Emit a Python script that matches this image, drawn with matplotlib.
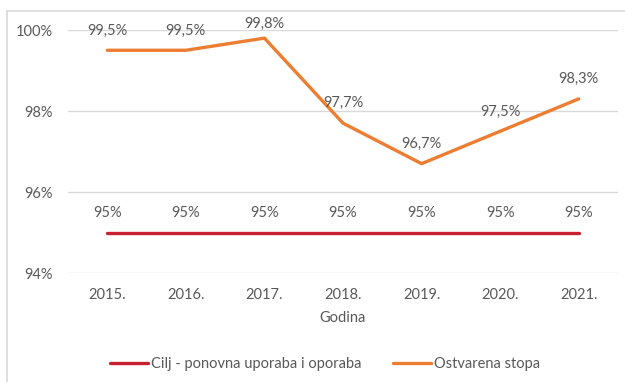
import matplotlib
matplotlib.use("Agg")
import matplotlib.pyplot as plt
from matplotlib.patches import Rectangle

years = ["2015.", "2016.", "2017.", "2018.", "2019.", "2020.", "2021."]
target = [95, 95, 95, 95, 95, 95, 95]
achieved = [99.5, 99.5, 99.8, 97.7, 96.7, 97.5, 98.3]
yticks = [94, 96, 98, 100]

TEXT = "#595959"
GRID = "#d9d9d9"
RED = "#C8202F"
ORANGE = "#ED7D31"
FS = 10.5
LABEL_LIFT = 0.49   # data units above each point
LABEL_CEIL = 100.15  # keep labels inside the chart frame

plt.rcParams["font.family"] = ["Lato", "DejaVu Sans"]
plt.rcParams["font.size"] = FS

fig = plt.figure(figsize=(6.25, 3.82), dpi=100)
ax = fig.add_axes([0.1088, 0.2853, 0.88, 0.6361])

x = list(range(len(years)))
ax.plot(x, target, color=RED, lw=2.4, solid_capstyle="round",
        label="Cilj - ponovna uporaba i oporaba")
ax.plot(x, achieved, color=ORANGE, lw=2.4, solid_capstyle="round",
        label="Ostvarena stopa")

for xi, v in zip(x, target):
    ax.text(xi, min(v + LABEL_LIFT, LABEL_CEIL), f"{v:g}%",
            ha="center", va="center", color=TEXT, fontsize=FS)
for xi, v in zip(x, achieved):
    ax.text(xi, min(v + LABEL_LIFT, LABEL_CEIL), f"{v:.1f}%".replace(".", ","),
            ha="center", va="center", color=TEXT, fontsize=FS)

ax.set_xlim(-0.5, len(years) - 0.5)
ax.set_ylim(94, 100)
ax.set_yticks(yticks)
ax.set_yticklabels([f"{t}%" for t in yticks])
ax.set_xticks(x)
ax.set_xticklabels(years)
ax.grid(axis="y", color=GRID, lw=1)
ax.set_axisbelow(True)
for s in ax.spines.values():
    s.set_visible(False)
ax.tick_params(axis="both", length=0, colors=TEXT, labelsize=FS)
ax.tick_params(axis="x", pad=11)
ax.tick_params(axis="y", pad=11)
ax.set_xlabel("Godina", color=TEXT, fontsize=FS, labelpad=6)

fig.legend(loc="center", bbox_to_anchor=(0.52, 0.047), ncol=2, frameon=False,
           handlelength=2.6, handletextpad=0.2, columnspacing=2.2,
           labelcolor=TEXT, fontsize=FS)

fig.patches.append(Rectangle((7 / 625, -0.05), 1.2, 0.05 + (382 - 11) / 382,
                             transform=fig.transFigure, fill=False,
                             edgecolor=GRID, lw=1.2))

fig.savefig("out.png", dpi=100)
